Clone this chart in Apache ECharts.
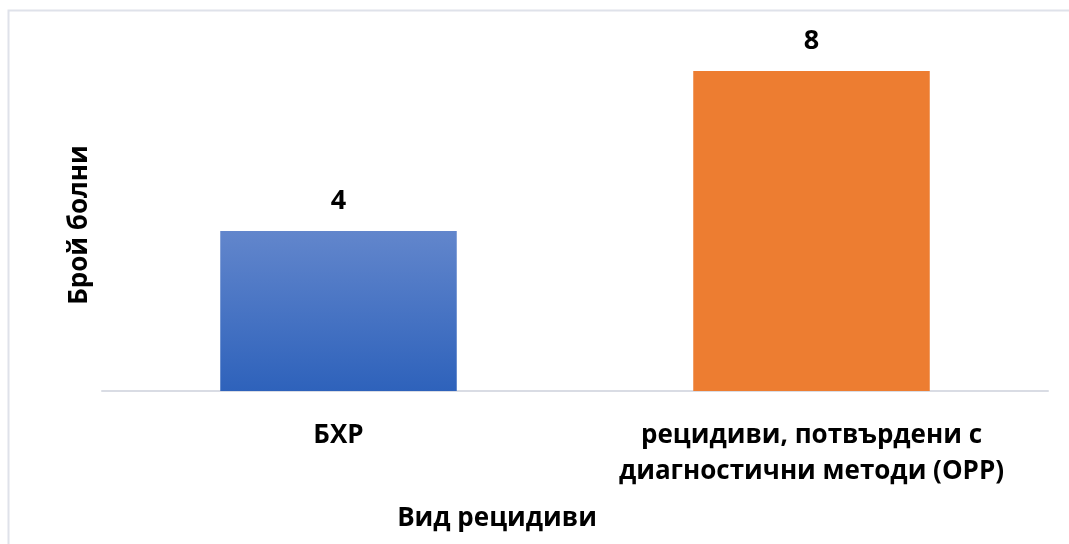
<!DOCTYPE html>
<html>
<head>
<meta charset="utf-8">
<script src="https://cdn.jsdelivr.net/npm/echarts@6/dist/echarts.min.js"></script>
<style>
  html, body { margin: 0; padding: 0; background: #ffffff; }
  #chart { width: 1069px; height: 544px; }
</style>
</head>
<body>
<div id="chart"></div>
<script>
// Relapse counts by type
const categories = ['БХР', 'рецидиви, потвърдени с\nдиагностични методи (ОРР)'];
const patientCounts = [4, 8];
const xAxisTitle = 'Вид рецидиви';
const yAxisTitle = 'Брой болни';

const FONT = '"Open Sans", "DejaVu Sans", sans-serif';

const barStyles = [
  {
    color: new echarts.graphic.LinearGradient(0, 0, 0, 1, [
      { offset: 0, color: '#6286cc' },
      { offset: 1, color: '#2e62bb' }
    ])
  },
  { color: '#ed7d31' }
];

const chart = echarts.init(document.getElementById('chart'), null, { renderer: 'canvas' });

chart.setOption({
  backgroundColor: '#ffffff',
  animation: false,
  grid: { left: 102, right: 21, top: 31, bottom: 153 },
  xAxis: {
    type: 'category',
    data: categories,
    axisLine: { lineStyle: { color: '#d9dce4', width: 2 } },
    axisTick: { show: false },
    axisLabel: {
      color: '#000000',
      fontFamily: FONT,
      fontWeight: 'bold',
      fontSize: 26,
      lineHeight: 36,
      margin: 27,
      interval: 0
    }
  },
  yAxis: {
    type: 'value',
    min: 0,
    max: 9,
    interval: 1,
    axisLine: { show: false },
    axisTick: { show: false },
    axisLabel: { show: false },
    splitLine: { show: false }
  },
  series: [{
    type: 'bar',
    barWidth: '50%',
    data: patientCounts.map((v, i) => ({ value: v, itemStyle: barStyles[i] })),
    label: {
      show: true,
      position: 'top',
      distance: 16,
      color: '#000000',
      fontFamily: FONT,
      fontWeight: 'bold',
      fontSize: 27,
      lineHeight: 27
    }
  }],
  graphic: [
    {
      type: 'rect',
      shape: { x: 8.5, y: 10.5, width: 1100, height: 600 },
      style: { fill: 'none', stroke: '#dfe2ea', lineWidth: 2 },
      silent: true
    },
    {
      type: 'text',
      x: 497,
      y: 519,
      style: {
        text: xAxisTitle,
        fill: '#000000',
        font: 'bold 26px ' + FONT,
        align: 'center',
        verticalAlign: 'middle'
      }
    },
    {
      type: 'text',
      x: 80,
      y: 225,
      rotation: Math.PI / 2,
      style: {
        text: yAxisTitle,
        fill: '#000000',
        font: 'bold 26px ' + FONT,
        align: 'center',
        verticalAlign: 'middle'
      }
    }
  ]
});
</script>
</body>
</html>
